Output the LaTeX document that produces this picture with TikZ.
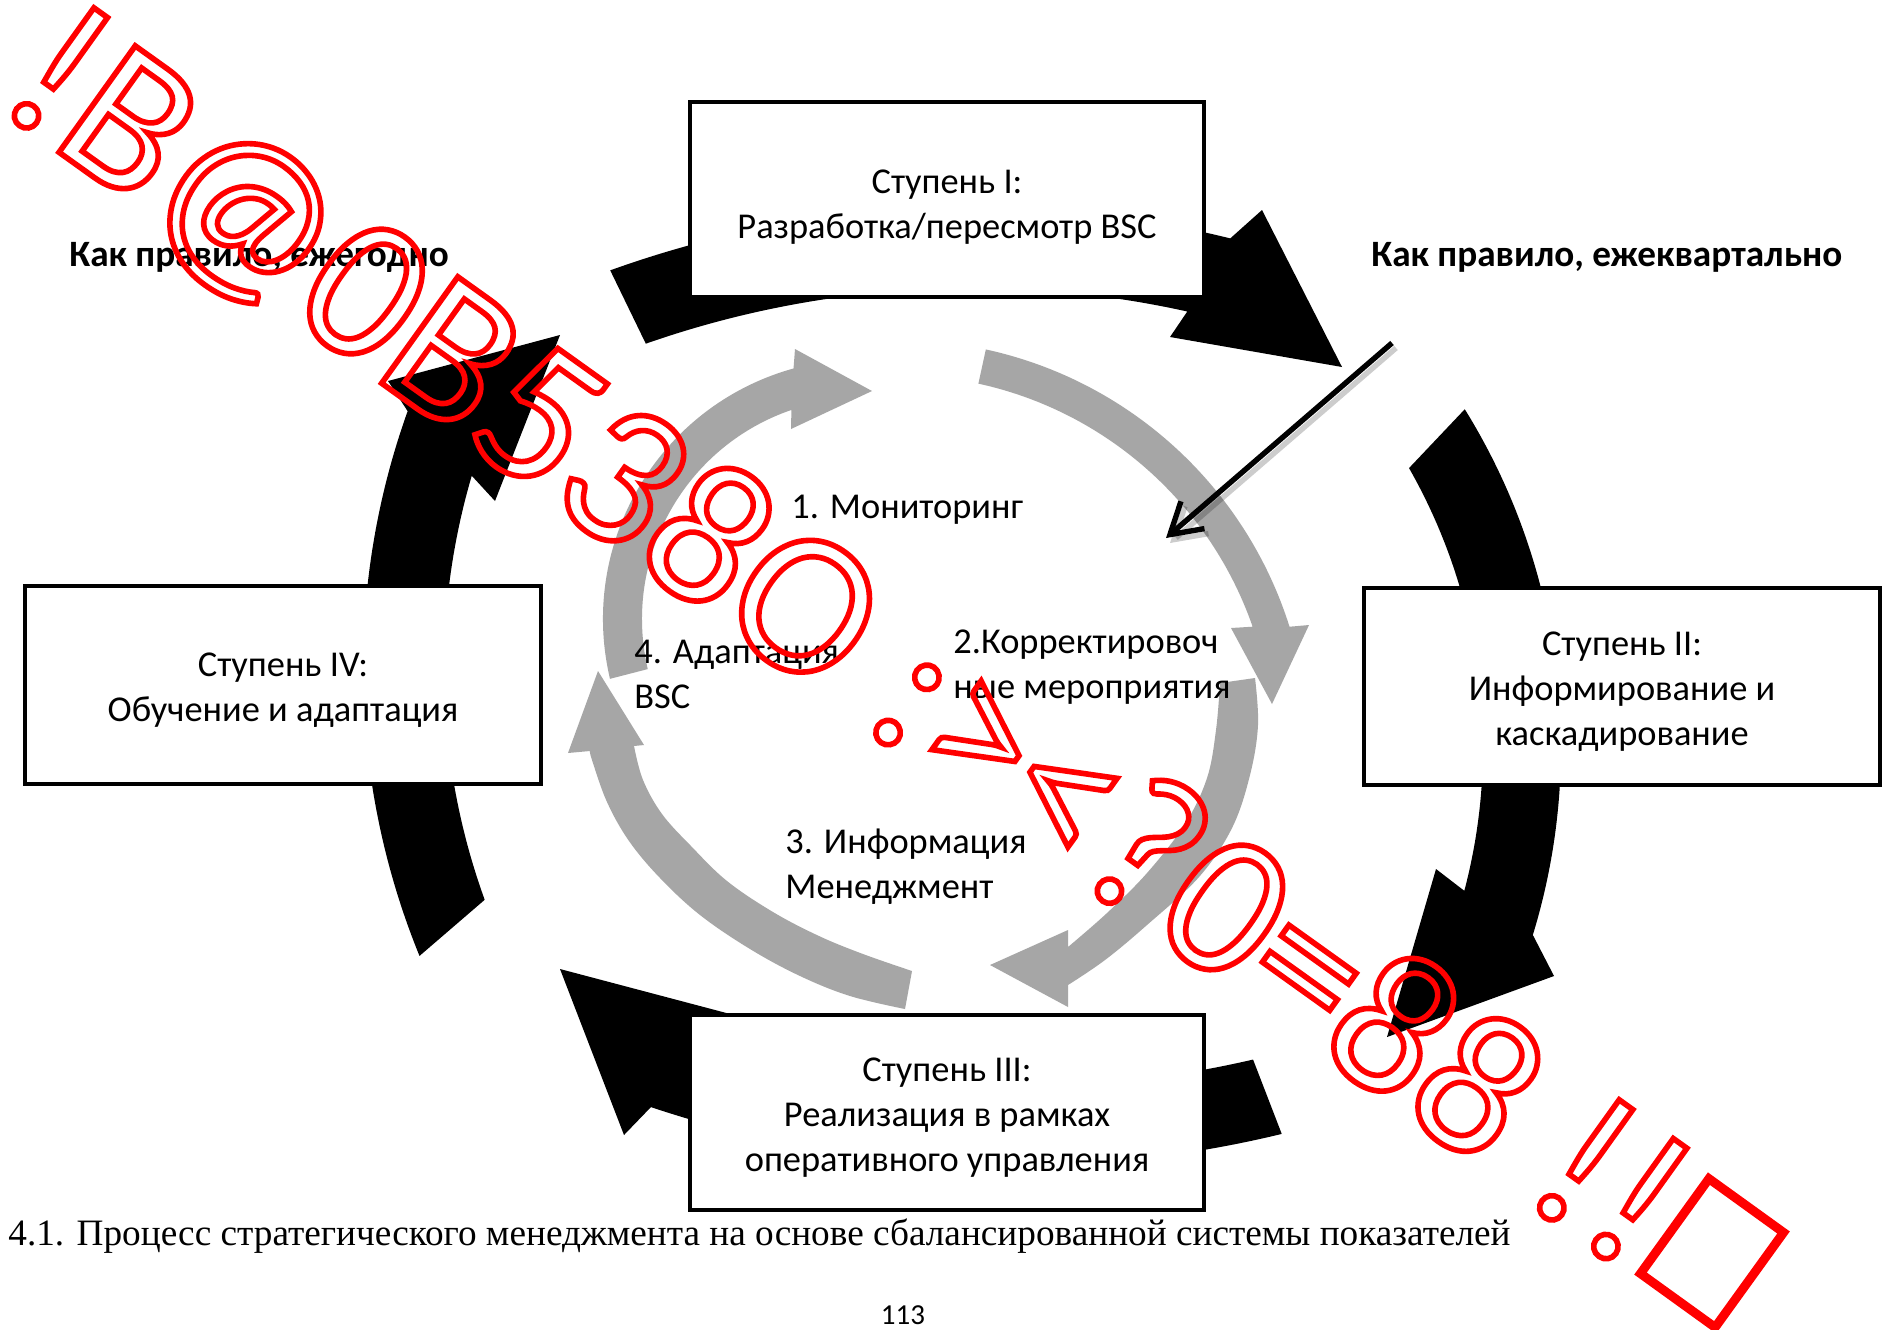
\documentclass[tikz,border=0pt]{standalone}
\usepackage{fontspec}
\usepackage{graphicx}
\setmainfont{Carlito}
\newfontfamily\capfont{Liberation Serif}
\newfontfamily\wmfont{Carlito}
\usetikzlibrary{calc,arrows.meta}
\definecolor{arrowgray}{HTML}{A6A6A6}
\newcommand\boxfont{\fontsize{18.2}{22.5}\selectfont}
% raises the first line of a stage box so the text block sits a little lower
\newcommand\toprule[1]{\rule{0pt}{#1}}

\begin{document}
\begin{tikzpicture}[x=0.5pt, y=-0.5pt,
  stepbox/.style={draw=black, line width=2.25pt, fill=white, align=center,
    inner sep=0pt, minimum width=257pt, minimum height=97.5pt, font=\boxfont},
  note/.style={anchor=base west, inner sep=0pt, font=\fontsize{18.6}{22.5}\selectfont\bfseries},
  lbl/.style={anchor=north west, inner sep=0pt, align=left, font=\boxfont},
  bigarrow/.style={fill=black},
  smallarrow/.style={fill=arrowgray}]

\useasboundingbox (0,0) rectangle (1888,1329);
\fill[white] (0,0) rectangle (1888,1329);

% centres of the four thick black arcs
\coordinate (cA) at (973,1278);
\coordinate (cB) at (920,747);
\coordinate (cC) at (1013,23);
\coordinate (cD) at (1125,668);

% top arc: stage I -> stage II
\fill[bigarrow] ($(cA)+(250.2:1071)$) arc[start angle=250.2, end angle=283.9, radius=1071]
  -- (1262,210) -- (1342,367) -- (1170,337)
  -- ($(cA)+(282.5:990)$) arc[start angle=282.5, end angle=250.7, radius=990] -- cycle;
% right arc: stage II -> stage III
\fill[bigarrow] ($(cB)+(328.2:641)$) arc[start angle=328.2, end angle=377.05, radius=641]
  -- (1554,976) -- (1387,1037) -- (1436,869)
  -- ($(cB)+(374.8:563)$) arc[start angle=374.8, end angle=330.3, radius=563] -- cycle;
% bottom arc: stage III -> stage IV
\fill[bigarrow] ($(cC)+(76.4:1143)$) arc[start angle=76.4, end angle=108.47, radius=1143]
  -- (624,1135) -- (560,969) -- (734,1015)
  -- ($(cC)+(106.6:1064)$) arc[start angle=106.6, end angle=76.96, radius=1064] -- cycle;
% left arc: stage IV -> stage I
\fill[bigarrow] ($(cD)+(157.8:762)$) arc[start angle=157.8, end angle=199.7, radius=762]
  -- (388,381) -- (560,335) -- (495,501)
  -- ($(cD)+(196.4:681)$) arc[start angle=196.4, end angle=160.1, radius=681] -- cycle;

% the four stages
\node[stepbox] (s1) at (947,199.5) {\toprule{19pt}Ступень I:\\Разработка/пересмотр BSC};
\node[stepbox, minimum width=258pt, minimum height=98.5pt] (s2) at (1622,686.5)
  {\toprule{17pt}Ступень II:\\Информирование и\\каскадирование};
\node[stepbox] (s3) at (947,1112.5) {\toprule{17pt}Ступень III:\\Реализация в рамках\\оперативного управления};
\node[stepbox, minimum width=258pt, minimum height=99pt] (s4) at (283,685)
  {\toprule{17pt}Ступень IV:\\Обучение и адаптация};

% inner grey cycle
\coordinate (g1) at (863,619);
\coordinate (g2) at (898.5,750);
\fill[smallarrow] ($(g1)+(166.7:260)$) arc[start angle=166.7, end angle=254.5, radius=260]
  -- (795,349) -- (872,391) -- (791,429)
  -- ($(g1)+(251.1:221)$) arc[start angle=251.1, end angle=166.9, radius=221] -- cycle;
\fill[smallarrow] ($(g2)+(282.3:410)$) arc[start angle=282.3, end angle=342.5, radius=410]
  -- (1309,625) -- (1272,704) -- (1231,628)
  -- ($(g2)+(340.8:375)$) arc[start angle=340.8, end angle=282.3, radius=375] -- cycle;
\fill[smallarrow] (1220,683)
  -- plot[smooth, tension=0.6] coordinates {(1255,678) (1258,725) (1250,775) (1232,828)
       (1199,877) (1147,925) (1105,960) (1068,985)}
  -- (1068,1007) -- (990,965) -- (1068,930)
  -- plot[smooth, tension=0.6] coordinates {(1068,947) (1107,913) (1147,873) (1185,824)
       (1207,778) (1216,730) (1220,683)} -- cycle;
\fill[smallarrow] (905,1009)
  -- plot[smooth, tension=0.6] coordinates {(905,1009) (850,996) (800,976) (750,949)
       (700,915) (660,878) (629,841) (607,802) (592,760) (590,751)}
  -- (568,753) -- (598,671) -- (644,745)
  -- plot[smooth, tension=0.6] coordinates {(634,746) (643,780) (662,814) (691,846)
       (727,881) (773,912) (819,936) (863,954) (912,971)} -- cycle;

% labels
\node[note] (yearly) at (69,266) {Как правило, ежегодно};
\node[note] (quarterly) at (1371,266) {Как правило, ежеквартально};
\node[lbl] (m1) at (791,487) {\strut 1. Мониторинг};
\node[lbl] (m2) at (953,621.5) {\strut 2.Корректировоч\\ные мероприятия};
\node[lbl] (m3) at (785,821.5) {\strut 3. Информация\\Менеджмент};
\node[lbl] (m4) at (634,631.5) {\strut 4. Адаптация\\BSC};

% pointer to the corrective actions
\coordinate (pstart) at (1392,343);
\coordinate (pend) at (1166,538);
\draw[line width=2.7pt, black, opacity=0.2, -{Straight Barb[length=15pt,width=18pt]}]
  ([shift={(4,5)}]pstart) -- ([shift={(4,5)}]pend);
\draw[line width=2.7pt, black, -{Straight Barb[length=15pt,width=18pt]}] (pstart) -- (pend);

% caption and page number
\node[anchor=base west, inner sep=0pt, font=\capfont\fontsize{17.4}{20}\selectfont] (caption) at (8,1245)
  {\resizebox{751pt}{!}{4.1. Процесс стратегического менеджмента на основе сбалансированной системы показателей}};
\node[anchor=base, inner sep=0pt, font=\fontsize{14.5}{16}\selectfont] (page) at (903,1324) {113};

% outlined stamp across the sheet
\node[rotate=-35.6, anchor=base west, inner sep=0pt, text=red,
  font=\wmfont\fontsize{102}{110}\selectfont] (stamp) at (-7,105)
  {\special{pdf:literal direct 1 Tr 2.8 w}!B@0B538O :><?0=88 !!\special{pdf:literal direct 0 Tr}};
\node[draw=red, line width=4.5pt, minimum width=46pt, minimum height=58.5pt,
  rotate=-35.8, inner sep=0pt] (stampbox) at (1712,1253) {};
\end{tikzpicture}
\end{document}
